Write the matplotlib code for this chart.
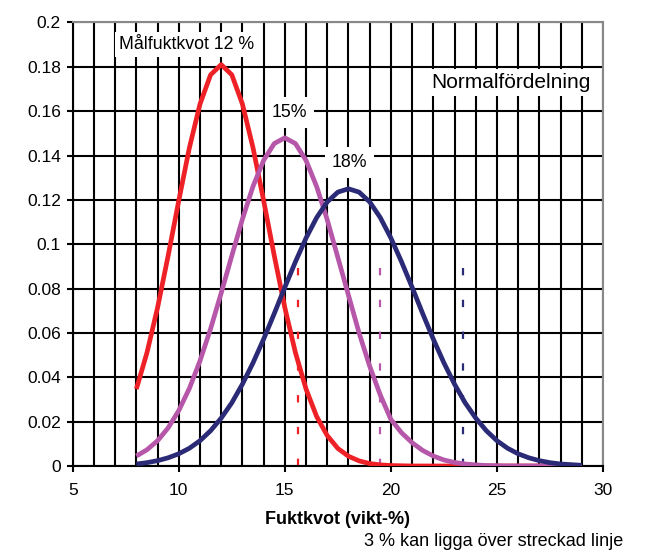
import numpy as np
import matplotlib
matplotlib.use("Agg")
import matplotlib.pyplot as plt
from matplotlib.ticker import MultipleLocator, FuncFormatter

plt.rcParams['font.family'] = ['Liberation Sans', 'DejaVu Sans']

# moisture content (weight-%), half-step from 8 to 29
x = np.arange(8, 29.5, 0.5)
red_12 = [0.0347, 0.0511, 0.0714, 0.0949, 0.1197, 0.1435, 0.1632, 0.1764, 0.181,
          0.1764, 0.1632, 0.1435, 0.1197, 0.0949, 0.0714, 0.0511, 0.0347, 0.0223,
          0.0137, 0.0079, 0.0044, 0.0023, 0.0011, 0.0005, 0.0002, 0.0001,
          0, 0, 0, 0, 0, 0, 0, 0, 0, 0, 0, 0, 0, 0, 0, 0, 0]
mag_15 = [0.0045, 0.0073, 0.0114, 0.0172, 0.025, 0.035, 0.0474, 0.0619, 0.078,
          0.0948, 0.1113, 0.1261, 0.1378, 0.1454, 0.148,
          0.1454, 0.1378, 0.126, 0.111, 0.094, 0.077, 0.060, 0.045, 0.032, 0.021,
          0.015, 0.0105, 0.007, 0.0045, 0.0027, 0.0016, 0.0009, 0.0005, 0.0002, 0.0001,
          0, 0, 0, 0, 0, 0, 0, 0]
navy_18 = [0.0009, 0.0015, 0.0024, 0.0037, 0.0055, 0.0080, 0.0114, 0.0159, 0.0216,
           0.0285, 0.0369, 0.0465, 0.0572, 0.0687, 0.0806, 0.0921, 0.1028, 0.1120,
           0.1191, 0.1235, 0.125, 0.1235, 0.1191, 0.1120, 0.1028, 0.0921, 0.0806,
           0.0687, 0.0572, 0.0465, 0.0369, 0.0285, 0.0216, 0.0159, 0.0114, 0.0080,
           0.0055, 0.0037, 0.0024, 0.0015, 0.0009, 0.0006, 0.0003]
# 3 % limits (dashed)
limit_x = [15.6, 19.5, 23.4]
limit_top = 0.1

colors = ['#ee2127', '#b657a9', '#2b2a76']

fig = plt.figure(figsize=(6.63, 5.59), dpi=100)
ax = fig.add_axes([0.1097, 0.1664, 0.7998, 0.7934])

for xs, c in zip(limit_x, colors):
  ax.plot([xs, xs], [0, limit_top], color=c, lw=1.6,
          linestyle=(0, (3.3, 11)), zorder=2)

for ys, c in zip([red_12, mag_15, navy_18], colors):
  ax.plot(x, ys, color=c, lw=3.4, solid_capstyle='butt',
          solid_joinstyle='round', zorder=4)

ax.set_xlim(5, 30)
ax.set_ylim(0, 0.2)
ax.xaxis.set_major_locator(MultipleLocator(5))
ax.xaxis.set_minor_locator(MultipleLocator(1))
ax.yaxis.set_major_locator(MultipleLocator(0.02))
ax.yaxis.set_major_formatter(FuncFormatter(lambda v, p: '%g' % round(v, 2)))

ax.set_axisbelow(True)
ax.grid(True, which='both', axis='x', color='black', lw=1.5)
ax.grid(True, which='major', axis='y', color='black', lw=1.5)
ax.tick_params(which='major', direction='out', length=4.5, width=1.5,
               labelsize=12.5, color='black')
ax.tick_params(axis='x', which='major', pad=8)
ax.tick_params(axis='y', which='major', pad=4)
ax.tick_params(which='minor', length=0)

for s in ['left', 'bottom']:
  ax.spines[s].set_color('black')
  ax.spines[s].set_linewidth(1.5)
for s in ['top', 'right']:
  ax.spines[s].set_color('#888888')
  ax.spines[s].set_linewidth(1.5)

ax.text(10.38, 0.190, 'Målfuktkvot 12 %', ha='center', va='center', fontsize=12.8,
        bbox=dict(facecolor='white', edgecolor='none', pad=3), zorder=3)
ax.text(15.23, 0.1593, '15%', ha='center', va='center', fontsize=12.8,
        bbox=dict(facecolor='white', edgecolor='none', pad=5), zorder=3)
ax.text(18.06, 0.1367, '18%', ha='center', va='center', fontsize=12.8,
        bbox=dict(facecolor='white', edgecolor='none', pad=5), zorder=3)
ax.text(25.66, 0.173, 'Normalfördelning', ha='center', va='center', fontsize=15,
        bbox=dict(facecolor='white', edgecolor='none', pad=3), zorder=3)

ax.set_xlabel('Fuktkvot (vikt-%)', fontsize=13, fontweight='bold', labelpad=9)
fig.text(623 / 663, 1 - 541.7 / 559, '3 % kan ligga över streckad linje',
         ha='right', va='center', fontsize=13)

fig.savefig('out.png', dpi=100)
